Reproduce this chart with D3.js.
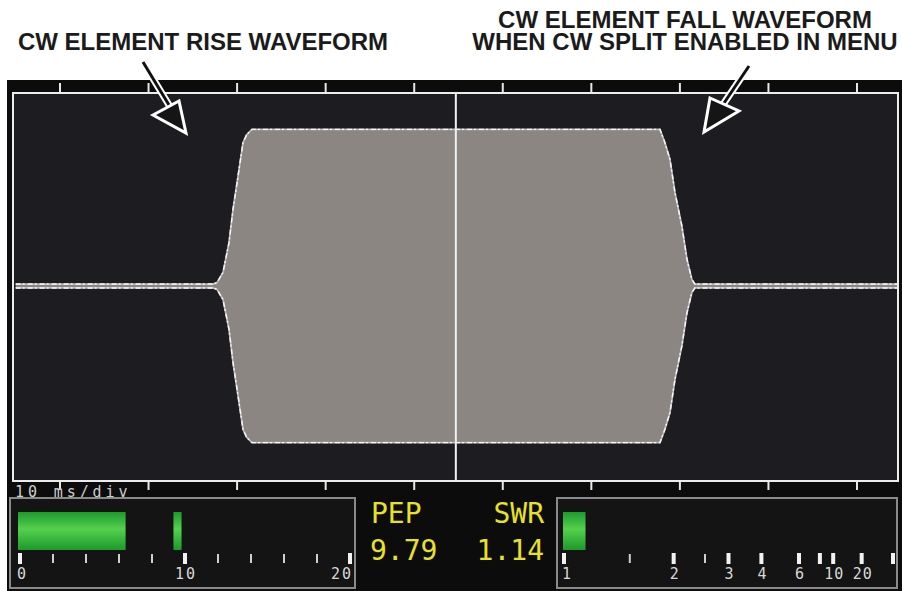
<!DOCTYPE html>
<html><head><meta charset="utf-8">
<script src="https://cdn.jsdelivr.net/npm/d3@7"></script>
<style>html,body{margin:0;padding:0;background:#fff;} svg{display:block}</style>
</head><body><svg id="c" width="902" height="591"></svg>
<script>
// ---------- data ----------
// envelope of the CW element (time in ms, amplitude in vertical divisions)
const envTime = [0, 22.28, 22.73, 23.41, 24.09, 24.54, 25.10, 25.67, 26.08, 26.68, 72.75, 73.32, 73.88, 74.44, 75.23, 75.80, 76.36, 76.70, 100];
const envAmp  = [0.04, 0.04, 0.07, 0.28, 0.90, 1.58, 2.26, 2.96, 3.12, 3.23, 3.23, 2.95, 2.61, 1.93, 1.23, 0.55, 0.13, 0.04, 0.04];
const gridTicks = [5, 15, 25, 35, 45, 55, 65, 75, 85, 95];
const cursorTime = [49.7];
const timebaseLabel = "10 ms/div";

// power meter (W)
const powerMajor = [0, 10, 20];
const powerMinor = [2, 4, 6, 8, 12, 14, 16, 18];
const powerLabels = ["0", "10", "20"];
const powerBar = [0, 6.4];
const powerPeak = [9.3, 9.79];

// SWR meter
const swrMajor = [1, 2, 3, 4, 6, 8, 10, 20, Infinity];
const swrMinor = [1.5, 2.5];
const swrLabels = [1, 2, 3, 4, 6, 10, 20];
const swrValue = 1.14;

const readoutNames = ["PEP", "SWR"];
const readoutValues = ["9.79", "1.14"];

const annoLeft = ["CW ELEMENT RISE WAVEFORM"];
const annoRight = ["CW ELEMENT FALL WAVEFORM", "WHEN CW SPLIT ENABLED IN MENU"];

// ---------- drawing ----------
const svg = d3.select("#c");
svg.append("rect").attr("width", 902).attr("height", 591).attr("fill", "#ffffff");

// scope screen
svg.append("rect").attr("x", 7).attr("y", 80).attr("width", 895).attr("height", 511).attr("fill", "#0c0c0d");
const P = {l: 13, r: 898, t: 93, b: 481};
svg.append("rect").attr("x", P.l).attr("y", P.t).attr("width", P.r - P.l).attr("height", P.b - P.t).attr("fill", "#1d1c21");

const x = d3.scaleLinear().domain([0, 100]).range([15.7, 901.3]);
const y = d3.scaleLinear().domain([-4, 4]).range([480, 92]);

const defs = svg.append("defs");
defs.append("clipPath").attr("id", "plotclip").append("rect")
  .attr("x", P.l + 1).attr("y", P.t + 1).attr("width", P.r - P.l - 2).attr("height", P.b - P.t - 2);

const env = envTime.map((t, i) => ({t, a: envAmp[i]}));
const g = svg.append("g").attr("clip-path", "url(#plotclip)");
g.append("path").datum(env)
  .attr("d", d3.area().x(d => x(d.t)).y0(d => y(-d.a)).y1(d => y(d.a)))
  .attr("fill", "#8b8682");
const lineTop = d3.line().x(d => x(d.t)).y(d => y(d.a));
const lineBot = d3.line().x(d => x(d.t)).y(d => y(-d.a));
[lineTop, lineBot].forEach(l => {
  g.append("path").datum(env).attr("d", l).attr("fill", "none")
    .attr("stroke", "#bdbbbd").attr("stroke-width", 1.7);
  g.append("path").datum(env).attr("d", l).attr("fill", "none")
    .attr("stroke", "#f8f8f8").attr("stroke-width", 1.4).attr("stroke-dasharray", "5,2,2,3");
});

// border and cursor
svg.append("rect").attr("x", P.l).attr("y", P.t).attr("width", P.r - P.l).attr("height", P.b - P.t)
  .attr("fill", "none").attr("stroke", "#ececec").attr("stroke-width", 2);
svg.selectAll(".cur").data(cursorTime).join("line")
  .attr("x1", d => x(d)).attr("x2", d => x(d)).attr("y1", P.t).attr("y2", P.b)
  .attr("stroke", "#f0f0f0").attr("stroke-width", 2);

// ticks top & bottom
svg.selectAll(".tt").data(gridTicks).join("line")
  .attr("x1", d => x(d)).attr("x2", d => x(d)).attr("y1", P.t - 10).attr("y2", P.t)
  .attr("stroke", "#e8e8e8").attr("stroke-width", 2);
svg.selectAll(".tb").data(gridTicks).join("line")
  .attr("x1", d => x(d)).attr("x2", d => x(d)).attr("y1", P.b).attr("y2", P.b + 9)
  .attr("stroke", "#e8e8e8").attr("stroke-width", 2);

const mono = "'DejaVu Sans Mono', 'Liberation Mono', monospace";
svg.append("text").attr("x", 15).attr("y", 497).text(timebaseLabel)
  .attr("font-family", mono).attr("font-size", 15).attr("letter-spacing", 3.9).attr("fill", "#cfcfcf");

// gradient for bars
const grad = defs.append("linearGradient").attr("id", "gbar").attr("x1", 0).attr("x2", 0).attr("y1", 0).attr("y2", 1);
grad.append("stop").attr("offset", "0%").attr("stop-color", "#1d9a2c");
grad.append("stop").attr("offset", "45%").attr("stop-color", "#55d04e");
grad.append("stop").attr("offset", "100%").attr("stop-color", "#1c9a2b");

// meter boxes
function box(x0, x1) {
  svg.append("rect").attr("x", x0).attr("y", 498).attr("width", x1 - x0).attr("height", 90)
    .attr("fill", "#141414").attr("stroke", "#8a8a8a").attr("stroke-width", 2);
}
box(10, 355);
box(557, 897);

const barY = 512, barH = 38, tickY = 553;

// power meter
const pw = d3.scaleLinear().domain([0, 20]).range([20, 350]);
svg.append("rect").attr("x", pw(powerBar[0]) - 2).attr("y", barY)
  .attr("width", pw(powerBar[1]) - pw(powerBar[0]) + 2).attr("height", barH).attr("fill", "url(#gbar)");
svg.append("rect").attr("x", pw(powerPeak[0])).attr("y", barY)
  .attr("width", pw(powerPeak[1]) - pw(powerPeak[0])).attr("height", barH).attr("fill", "url(#gbar)");
svg.selectAll(".pmaj").data(powerMajor).join("rect")
  .attr("x", d => pw(d) - 2).attr("y", tickY).attr("width", 4).attr("height", 11).attr("fill", "#f2f2f2");
svg.selectAll(".pmin").data(powerMinor).join("rect")
  .attr("x", d => pw(d) - 1).attr("y", tickY + 1).attr("width", 2).attr("height", 9).attr("fill", "#cfcfcf");
svg.selectAll(".plab").data(powerMajor).join("text")
  .attr("x", (d, i) => i === 0 ? pw(d) - 3 : (i === powerMajor.length - 1 ? pw(d) + 3 : pw(d) + 1))
  .attr("y", 579)
  .attr("text-anchor", (d, i) => i === 0 ? "start" : (i === powerMajor.length - 1 ? "end" : "middle"))
  .attr("font-family", mono).attr("font-size", 15).attr("letter-spacing", 2).attr("fill", "#d8d8d8")
  .text((d, i) => powerLabels[i]);

// SWR meter (reflection-coefficient scale)
const rho = s => s === Infinity ? 1 : (s - 1) / (s + 1);
const sw = d3.scaleLinear().domain([0, 1]).range([564, 893]);
svg.append("rect").attr("x", sw(0) - 1).attr("y", barY)
  .attr("width", sw(rho(swrValue)) - sw(0) + 1).attr("height", barH).attr("fill", "url(#gbar)");
svg.selectAll(".smaj").data(swrMajor).join("rect")
  .attr("x", d => sw(rho(d)) - 2).attr("y", tickY).attr("width", 4).attr("height", 11).attr("fill", "#f2f2f2");
svg.selectAll(".smin").data(swrMinor).join("rect")
  .attr("x", d => sw(rho(d)) - 1).attr("y", tickY + 1).attr("width", 2).attr("height", 9).attr("fill", "#cfcfcf");
svg.selectAll(".slab").data(swrLabels).join("text")
  .attr("x", (d, i) => i === 0 ? sw(rho(d)) - 2 : sw(rho(d)) + 1)
  .attr("y", 579)
  .attr("text-anchor", (d, i) => i === 0 ? "start" : "middle")
  .attr("font-family", mono).attr("font-size", 15).attr("letter-spacing", 1).attr("fill", "#d8d8d8")
  .text(d => d);

// readouts
const yellow = "#e8e225";
svg.selectAll(".rn").data(readoutNames).join("text")
  .attr("x", (d, i) => i === 0 ? 371 : 544).attr("y", 523)
  .attr("text-anchor", (d, i) => i === 0 ? "start" : "end")
  .attr("font-family", mono).attr("font-size", 28).attr("fill", yellow).text(d => d);
svg.selectAll(".rv").data(readoutValues).join("text")
  .attr("x", (d, i) => i === 0 ? 370 : 544).attr("y", 560)
  .attr("text-anchor", (d, i) => i === 0 ? "start" : "end")
  .attr("font-family", mono).attr("font-size", 28).attr("fill", yellow).text(d => d);

// annotations
const sans = "'Liberation Sans', Arial, Helvetica, sans-serif";
svg.selectAll(".al").data(annoLeft).join("text")
  .attr("x", 203).attr("y", 50).attr("text-anchor", "middle")
  .attr("font-family", sans).attr("font-weight", "bold").attr("font-size", 24).attr("fill", "#1b1b1b").text(d => d);
svg.selectAll(".ar").data(annoRight).join("text")
  .attr("x", 685).attr("y", (d, i) => 28 + i * 22).attr("text-anchor", "middle")
  .attr("font-family", sans).attr("font-weight", "bold").attr("font-size", 24).attr("fill", "#1b1b1b").text(d => d);

// arrows
function arrow(s, e, tri) {
  svg.append("line").attr("x1", s[0]).attr("y1", s[1]).attr("x2", e[0]).attr("y2", e[1])
    .attr("stroke", "#ffffff").attr("stroke-width", 7);
  svg.append("line").attr("x1", s[0]).attr("y1", s[1]).attr("x2", e[0]).attr("y2", e[1])
    .attr("stroke", "#111111").attr("stroke-width", 3);
  svg.append("path").attr("d", d3.line()(tri) + "Z")
    .attr("fill", "#151515").attr("stroke", "#ffffff").attr("stroke-width", 3).attr("stroke-linejoin", "miter");
}
arrow([143, 62], [172, 110], [[153, 115], [179, 101], [186, 133]]);
arrow([749, 66], [722, 106], [[710, 98], [739, 111], [704, 132]]);
</script></body></html>
